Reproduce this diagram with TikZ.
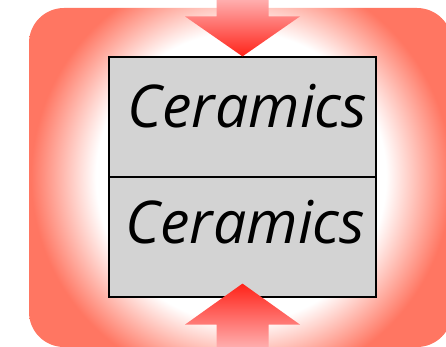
\documentclass[tikz,border=0pt]{standalone}
\usepackage{fontspec}
\newfontfamily\labelfont{Open Sans}
\definecolor{salmon}{RGB}{255,118,98}
\definecolor{arrowlight}{RGB}{255,175,175}
\definecolor{arrowdark}{RGB}{255,35,25}
\definecolor{boxgray}{RGB}{211,211,211}
\pgfdeclareradialshading{glow}{\pgfpoint{0bp}{0bp}}{color(0bp)=(white); color(14.5bp)=(white); color(21bp)=(salmon); color(100bp)=(salmon)}
\begin{document}
\begin{tikzpicture}[x=1pt,y=-1pt,
  layerbox/.style={draw=black,line width=1.2pt,fill=boxgray,minimum width=267pt,minimum height=120pt,inner sep=0pt},
  labeltext/.style={font=\labelfont\itshape\fontsize{59}{64}\selectfont,anchor=base,inner sep=0pt},
  downarrow/.style={top color=arrowlight,bottom color=arrowdark},
  uparrow/.style={top color=arrowdark,bottom color=arrowlight}]
\useasboundingbox (0,0) rectangle (446,347);
\clip (0,0) rectangle (446,347);
\begin{scope}
  \clip[rounded corners=35pt] (29,8) rectangle (452,347);
  \shade[shading=glow] (-9,-73) rectangle (491,427);
\end{scope}
\node[layerbox] (box1) at (242.5,117) {};
\node[layerbox] (box2) at (242.5,237) {};
\node[labeltext] (t1) at (247.5,128) {Ceramics};
\node[labeltext] (t2) at (245.5,243) {Ceramics};
\shade[downarrow] (box1.north) -- ++(-57.5,-40) -- ++(31.5,0) -- ++(0,-17) -- ++(52,0) -- ++(0,17) -- ++(31.5,0) -- cycle;
\shade[uparrow] ([yshift=14pt]box2.south) -- ++(-57.5,41) -- ++(31.5,0) -- ++(0,23) -- ++(52,0) -- ++(0,-23) -- ++(31.5,0) -- cycle;
\end{tikzpicture}
\end{document}
